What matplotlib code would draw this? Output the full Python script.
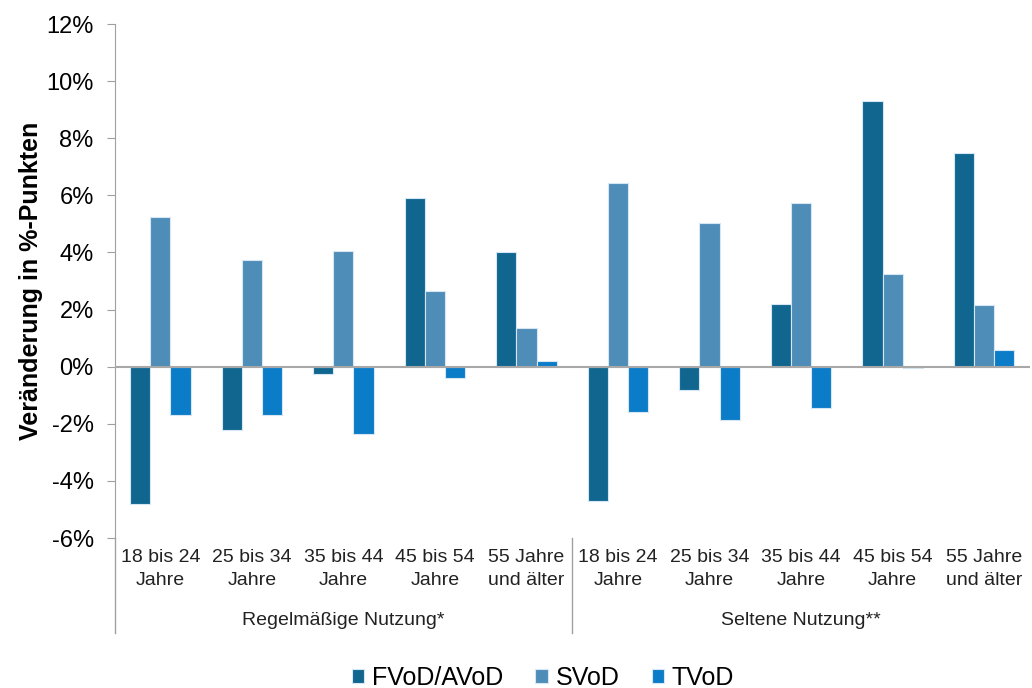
import numpy as np
import matplotlib.pyplot as plt
import matplotlib.transforms as mtransforms
from matplotlib.ticker import FuncFormatter

plt.rcParams['font.family'] = ['Liberation Sans', 'DejaVu Sans']

# ============================================================
# DATA
# ============================================================
age_labels = ["18 bis 24\nJahre", "25 bis 34\nJahre", "35 bis 44\nJahre",
              "45 bis 54\nJahre", "55 Jahre\nund älter"]
group_labels = ["Regelmäßige Nutzung*", "Seltene Nutzung**"]
series_names = ["FVoD/AVoD", "SVoD", "TVoD"]

fvod = [-4.8, -2.2, -0.25, 5.9, 4.0, -4.7, -0.8, 2.2, 9.3, 7.5]
svod = [5.25, 3.75, 4.05, 2.65, 1.35, 6.45, 5.05, 5.75, 3.25, 2.15]
tvod = [-1.7, -1.7, -2.35, -0.4, 0.2, -1.6, -1.85, -1.45, -0.05, 0.6]

colors = ["#10668F", "#4E8DB8", "#0A7CC8"]

# ============================================================
# PLOT
# ============================================================
fig = plt.figure(figsize=(10.32, 6.88), dpi=100)
ax = fig.add_axes([0.111, 0.218, 0.887, 0.747])

x = np.arange(len(fvod))
w = 0.22
for i, (vals, name) in enumerate(zip([fvod, svod, tvod], series_names)):
  ax.bar(x + (i - 1) * w, vals, width=w, color=colors[i], label=name,
         edgecolor='#D6E6F2', linewidth=0.8, zorder=2)

ax.set_xlim(-0.5, len(fvod) - 0.5)
ax.set_ylim(-6, 12)
ax.set_yticks(np.arange(-6, 13, 2))
ax.yaxis.set_major_formatter(FuncFormatter(lambda v, p: f"{v:.0f}%"))
ax.tick_params(axis='y', labelsize=17, length=6, color='#A0A0A0', pad=9)
ax.axhline(0, color='#A8A8A8', lw=1.5, zorder=3)

for s in ['top', 'right', 'bottom']:
  ax.spines[s].set_visible(False)
ax.spines['left'].set_color('#A0A0A0')

ax.set_xticks(x)
ax.set_xticklabels(age_labels * 2, fontsize=14, color='#222222', linespacing=1.45)
ax.tick_params(axis='x', length=0, pad=8)

ax.set_ylabel("Veränderung in %-Punkten", fontsize=18, fontweight='bold')
ax.yaxis.set_label_coords(-0.078, 0.5)

# group separators and labels below the axis
trans = mtransforms.blended_transform_factory(ax.transData, ax.transAxes)
for xb in [-0.5, 4.5]:
  ax.plot([xb, xb], [0, -0.185], transform=trans, color='#A0A0A0', lw=1, clip_on=False)
for gi, lab in enumerate(group_labels):
  ax.text(gi * 5 + 2, -0.16, lab, transform=trans, ha='center', va='center',
          fontsize=14, color='#222222')

fig.legend(loc='lower center', bbox_to_anchor=(0.526, -0.035), ncol=3, frameon=False,
           fontsize=18, handlelength=0.5, handleheight=0.5, handletextpad=0.3,
           columnspacing=1.3)

plt.savefig('out.png', dpi=100)
